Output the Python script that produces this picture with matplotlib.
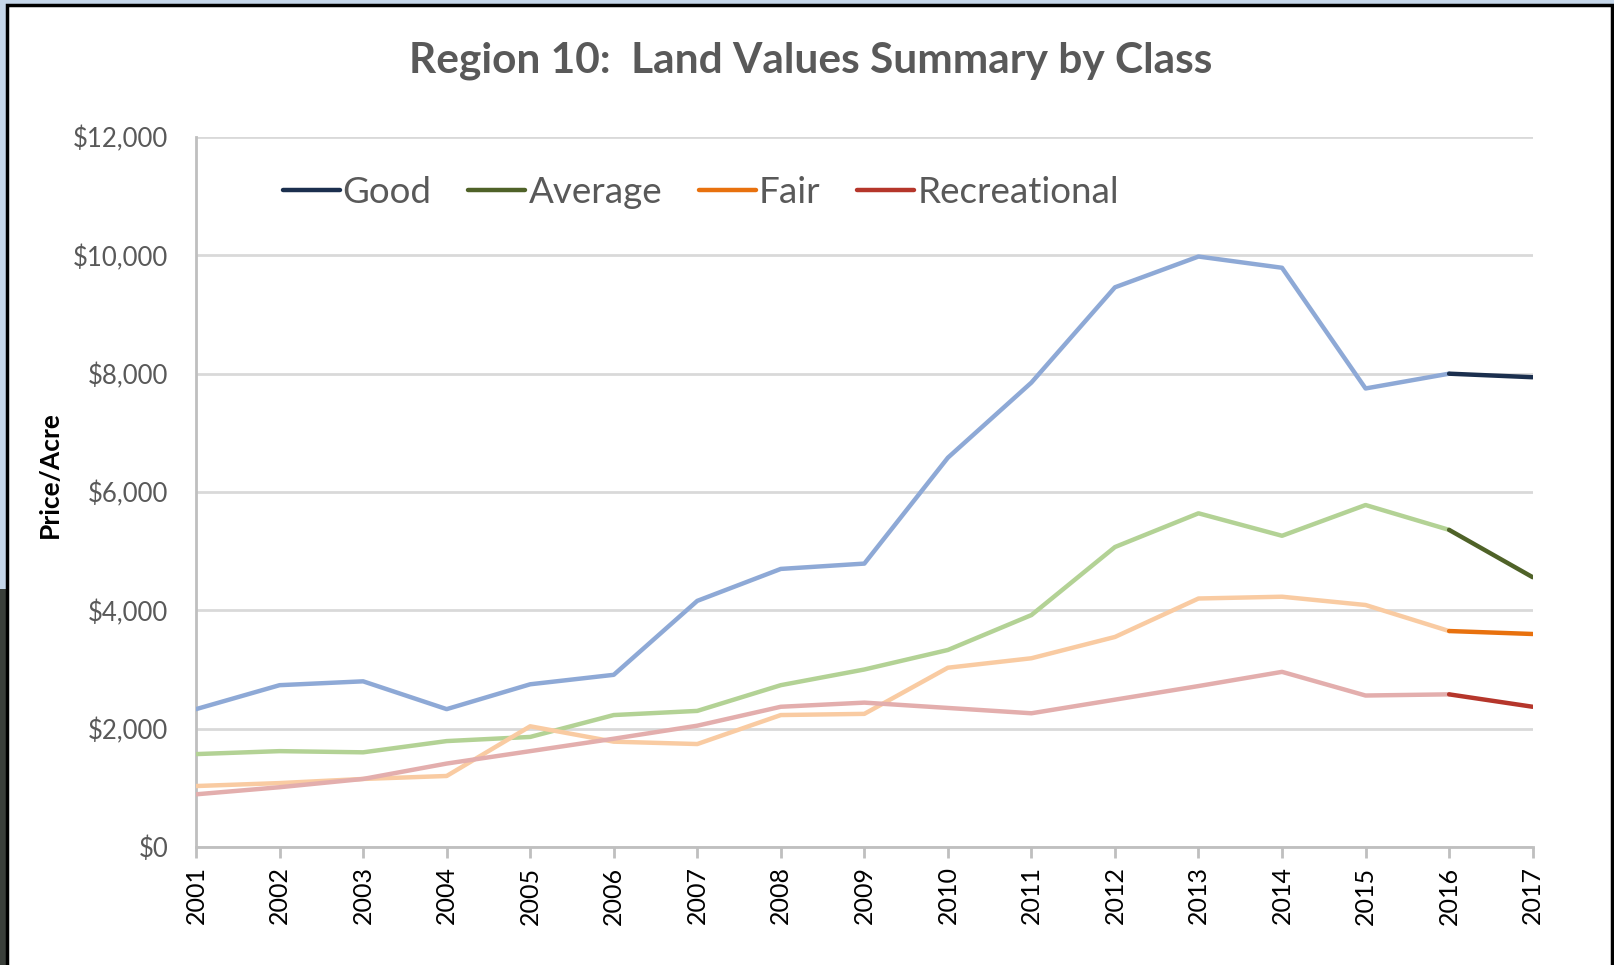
import matplotlib
matplotlib.use('agg')
import matplotlib.pyplot as plt
from matplotlib.patches import Rectangle
from matplotlib.ticker import FuncFormatter

years = list(range(2001, 2018))
good = [2330, 2735, 2800, 2330, 2750, 2910, 4160, 4700, 4790, 6580, 7850, 9460, 9980, 9790, 7750, 8000, 7940]
average = [1570, 1620, 1600, 1790, 1860, 2230, 2300, 2735, 3000, 3330, 3920, 5070, 5640, 5260, 5780, 5360, 4560]
fair = [1030, 1080, 1150, 1200, 2040, 1780, 1740, 2230, 2250, 3030, 3190, 3550, 4200, 4230, 4090, 3650, 3600]
recreational = [890, 1010, 1150, 1410, 1620, 1830, 2050, 2370, 2440, 2350, 2260, 2490, 2720, 2960, 2560, 2580, 2370]

names = ['Good', 'Average', 'Fair', 'Recreational']
light_colors = ['#8EA9D6', '#B3D295', '#F9CBA2', '#E3AEAD']
dark_colors = ['#1B2F4E', '#4F6228', '#E8710E', '#B5362B']

plt.rcParams['font.family'] = ['Lato', 'DejaVu Sans']

fig = plt.figure(figsize=(16.15, 9.65), dpi=100)
fig.patch.set_facecolor('#C6D7EA')
# screenshot frame
fig.patches.append(Rectangle((0, 0), 0.005, 0.39, transform=fig.transFigure,
                             facecolor='#3A3F3A', edgecolor='none', zorder=0))
fig.patches.append(Rectangle((0.0043, -0.01), 0.994, 1.005, transform=fig.transFigure,
                             facecolor='white', edgecolor='black', linewidth=2.5, zorder=1))

ax = fig.add_axes([0.1214, 0.1223, 0.8276, 0.7357])
ax.set_zorder(2)
ax.set_facecolor('none')

series = [good, average, fair, recreational]
for vals, lc, dc, name in zip(series, light_colors, dark_colors, names):
    ax.plot(years[:-1], vals[:-1], color=lc, lw=3.2, solid_capstyle='round', zorder=3)
    ax.plot(years[-2:], vals[-2:], color=dc, lw=3.2, solid_capstyle='round', zorder=4, label=name)

ax.set_xlim(2001, 2017)
ax.set_ylim(0, 12000)
ax.set_yticks(range(0, 12001, 2000))
ax.yaxis.set_major_formatter(FuncFormatter(lambda v, p: '${:,.0f}'.format(v)))
ax.set_xticks(years)
ax.set_xticklabels([str(y) for y in years], rotation=90)
ax.grid(axis='y', color='#D9D9D9', lw=2)
ax.set_axisbelow(True)

for s in ['top', 'right']:
    ax.spines[s].set_visible(False)
ax.spines['left'].set_color('#BFBFBF')
ax.spines['bottom'].set_color('#BFBFBF')
ax.spines['left'].set_linewidth(2)
ax.spines['bottom'].set_linewidth(2)
ax.tick_params(axis='y', length=0, pad=20, labelsize=18.5, labelcolor='#595959')
ax.tick_params(axis='x', length=8, width=2, color='#BFBFBF', pad=6, labelsize=18, labelcolor='black')

fig.text(0.031, 0.508, 'Price/Acre', rotation=90, ha='center', va='center',
         fontsize=19, fontweight='bold', color='black')

fig.text(0.502, 0.937, 'Region 10:  Land Values Summary by Class', ha='center', va='center',
         fontsize=30.5, fontweight='bold', color='#595959')

leg = ax.legend(loc='upper left', bbox_to_anchor=(0.04, 0.992), ncol=4, frameon=False,
                fontsize=26.5, handlelength=1.55, handletextpad=0.08, columnspacing=1.0,
                labelcolor='#595959')

fig.savefig('out.png', dpi=100, facecolor=fig.get_facecolor())
